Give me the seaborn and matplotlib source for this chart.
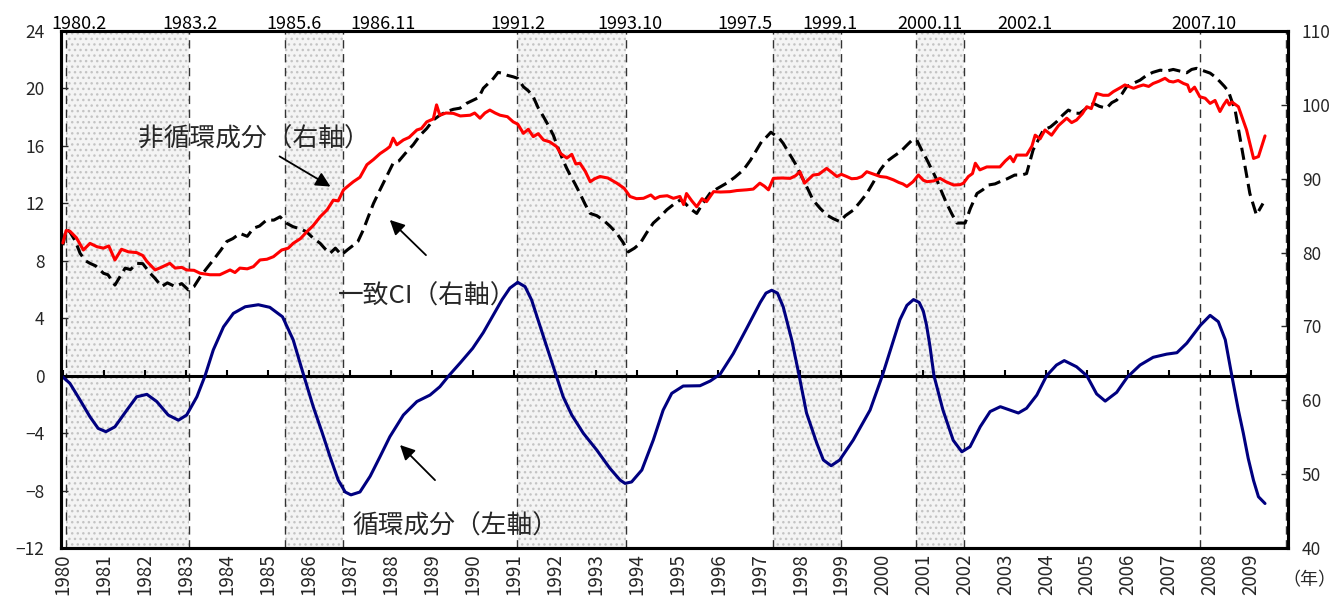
import matplotlib
matplotlib.use("Agg")
import matplotlib.pyplot as plt
import matplotlib.transforms as mtransforms
import numpy as np
import pandas as pd
import seaborn as sns

# ---------------- data ----------------
# cyclical component (left axis)
cyc_t = [1979.96, 1980.17, 1980.42, 1980.66, 1980.86, 1981.05, 1981.27, 1981.56, 1981.8, 1982.05,
         1982.29, 1982.57, 1982.82, 1983.02, 1983.27, 1983.47, 1983.67, 1983.92, 1984.16, 1984.45,
         1984.77, 1985.05, 1985.36, 1985.62, 1985.88, 1986.11, 1986.32, 1986.52, 1986.72, 1986.89,
         1987.03, 1987.25, 1987.5, 1987.74, 1987.98, 1988.31, 1988.64, 1988.96, 1989.2, 1989.42,
         1989.7, 1990.0, 1990.26, 1990.5, 1990.72, 1990.91, 1991.1, 1991.28, 1991.44, 1991.73,
         1992.04, 1992.21, 1992.42, 1992.7, 1993.03, 1993.35, 1993.6, 1993.72, 1993.88, 1994.13,
         1994.41, 1994.65, 1994.86, 1995.14, 1995.55, 1995.8, 1996.04, 1996.36, 1996.69, 1997.02,
         1997.16, 1997.3, 1997.44, 1997.58, 1997.79, 1997.97, 1998.15, 1998.4, 1998.56, 1998.75,
         1998.96, 1999.29, 1999.7, 2000.0, 2000.22, 2000.43, 2000.6, 2000.76, 2000.9, 2001.0,
         2001.08, 2001.16, 2001.26, 2001.48, 2001.73, 2001.94, 2002.14, 2002.39, 2002.63, 2002.88,
         2003.12, 2003.32, 2003.52, 2003.77, 2004.01, 2004.25, 2004.44, 2004.74, 2004.99, 2005.23,
         2005.44, 2005.72, 2005.98, 2006.29, 2006.61, 2006.94, 2007.19, 2007.43, 2007.76, 2008.0,
         2008.2, 2008.37, 2008.53, 2008.69, 2008.81, 2008.93, 2009.06, 2009.18, 2009.34]
cyc_v = [0.0, -0.53, -1.7, -2.86, -3.67, -3.9, -3.56, -2.4, -1.47, -1.3,
         -1.8, -2.74, -3.1, -2.74, -1.47, 0.0, 1.79, 3.4, 4.34, 4.8,
         4.94, 4.76, 4.1, 2.5, 0.0, -2.16, -3.9, -5.64, -7.27, -8.1,
         -8.3, -8.1, -7.0, -5.64, -4.25, -2.74, -1.8, -1.35, -0.77, 0.0,
         0.9, 1.9, 3.0, 4.2, 5.3, 6.1, 6.5, 6.2, 5.27, 2.71,
         0.0, -1.47, -2.74, -4.0, -5.18, -6.45, -7.27, -7.5, -7.4, -6.57,
         -4.48, -2.4, -1.23, -0.72, -0.7, -0.37, 0.1, 1.53, 3.3, 5.1,
         5.75, 5.95, 5.75, 4.8, 2.48, 0.0, -2.6, -4.7, -5.87, -6.27,
         -5.87, -4.48, -2.4, 0.0, 2.0, 3.9, 4.9, 5.3, 5.1, 4.5,
         3.5, 2.1, 0.0, -2.4, -4.5, -5.3, -4.95, -3.55, -2.5, -2.16,
         -2.4, -2.6, -2.27, -1.35, 0.0, 0.74, 1.05, 0.62, 0.0, -1.27,
         -1.77, -1.16, -0.1, 0.74, 1.28, 1.5, 1.6, 2.26, 3.5, 4.2,
         3.76, 2.5, 0.0, -2.4, -4.0, -5.76, -7.3, -8.43, -8.9]

# non-cyclical component (right axis)
non_t = [1980.0, 1980.08, 1980.17, 1980.33, 1980.5, 1980.66, 1980.83, 1980.99, 1981.12, 1981.27,
         1981.43, 1981.6, 1981.8, 1981.95, 1982.05, 1982.25, 1982.4, 1982.61, 1982.74, 1982.9,
         1983.02, 1983.2, 1983.35, 1983.59, 1983.83, 1984.08, 1984.2, 1984.32, 1984.5, 1984.65,
         1984.81, 1984.98, 1985.14, 1985.34, 1985.5, 1985.62, 1985.8, 1985.95, 1986.1, 1986.28,
         1986.45, 1986.6, 1986.72, 1986.85, 1987.0, 1987.09, 1987.25, 1987.42, 1987.58, 1987.74,
         1987.9, 1987.98, 1988.06, 1988.15, 1988.31, 1988.45, 1988.64, 1988.75, 1988.88, 1989.04,
         1989.12, 1989.2, 1989.35, 1989.53, 1989.7, 1989.94, 1990.05, 1990.18, 1990.3, 1990.42,
         1990.55, 1990.67, 1990.85, 1990.99, 1991.1, 1991.24, 1991.36, 1991.48, 1991.6, 1991.73,
         1991.88, 1992.05, 1992.15, 1992.3, 1992.42, 1992.52, 1992.62, 1992.75, 1992.87, 1992.98,
         1993.11, 1993.3, 1993.52, 1993.7, 1993.84, 1994.0, 1994.17, 1994.35, 1994.45, 1994.57,
         1994.75, 1994.9, 1995.06, 1995.15, 1995.22, 1995.35, 1995.47, 1995.6, 1995.71, 1995.88,
         1996.05, 1996.28, 1996.45, 1996.69, 1996.85, 1997.01, 1997.12, 1997.22, 1997.34, 1997.55,
         1997.75, 1997.88, 1997.99, 1998.1, 1998.31, 1998.45, 1998.64, 1998.78, 1998.89, 1999.0,
         1999.13, 1999.25, 1999.38, 1999.5, 1999.62, 1999.8, 1999.95, 2000.1, 2000.27, 2000.4,
         2000.5, 2000.6, 2000.75, 2000.88, 2001.0, 2001.09, 2001.25, 2001.41, 2001.55, 2001.74,
         2001.9, 2001.98, 2002.1, 2002.2, 2002.27, 2002.38, 2002.55, 2002.7, 2002.87, 2003.0,
         2003.12, 2003.2, 2003.28, 2003.52, 2003.65, 2003.73, 2003.85, 2003.97, 2004.13, 2004.3,
         2004.5, 2004.62, 2004.74, 2004.88, 2004.99, 2005.1, 2005.23, 2005.39, 2005.52, 2005.64,
         2005.8, 2005.92, 2006.13, 2006.25, 2006.37, 2006.5, 2006.61, 2006.75, 2006.9, 2007.0,
         2007.1, 2007.22, 2007.35, 2007.45, 2007.51, 2007.62, 2007.75, 2007.88, 2008.0, 2008.12,
         2008.24, 2008.33, 2008.41, 2008.47, 2008.53, 2008.69, 2008.89, 2009.06, 2009.18, 2009.34]
non_v = [81.3, 83.0, 82.9, 82.0, 80.35, 81.25, 80.8, 80.6, 80.9, 79.0,
         80.45, 80.1, 80.0, 79.6, 78.8, 77.65, 78.0, 78.55, 77.9, 78.0,
         77.65, 77.6, 77.2, 77.0, 77.0, 77.65, 77.3, 77.9, 77.8, 78.1,
         79.0, 79.1, 79.45, 80.35, 80.6, 81.25, 81.9, 82.8, 83.6, 84.85,
         85.8, 87.1, 87.0, 88.5, 89.2, 89.6, 90.2, 91.9, 92.6, 93.4,
         94.0, 94.35, 95.5, 94.6, 95.25, 95.6, 96.6, 96.8, 97.7, 98.1,
         100.0, 98.6, 98.9, 98.85, 98.5, 98.6, 98.9, 98.2, 98.9, 99.3,
         98.9, 98.6, 98.4, 97.7, 97.4, 96.15, 96.7, 95.7, 96.1, 95.25,
         95.0, 94.35, 93.4, 92.8, 93.3, 92.0, 92.1, 91.0, 89.6, 90.0,
         90.3, 90.1, 89.4, 88.7, 87.6, 87.3, 87.35, 87.8, 87.3, 87.6,
         87.7, 87.35, 87.6, 86.5, 88.0, 87.0, 86.2, 87.3, 86.9, 88.25,
         88.2, 88.25, 88.4, 88.5, 88.6, 89.4, 89.0, 88.5, 90.05, 90.1,
         90.05, 90.4, 90.95, 89.4, 90.5, 90.6, 91.4, 90.8, 90.3, 90.6,
         90.3, 90.0, 90.05, 90.3, 90.95, 90.6, 90.3, 90.2, 89.85, 89.5,
         89.3, 88.95, 89.6, 90.5, 89.8, 89.6, 89.7, 90.05, 89.6, 89.15,
         89.2, 89.4, 90.3, 90.7, 92.1, 91.2, 91.6, 91.6, 91.6, 92.4,
         93.0, 92.3, 93.2, 93.2, 94.4, 95.9, 95.4, 96.6, 95.9, 97.2,
         98.2, 97.6, 97.95, 98.8, 99.75, 99.5, 101.55, 101.3, 101.3, 101.8,
         102.3, 102.7, 102.25, 102.5, 102.7, 102.5, 102.9, 103.2, 103.6, 103.2,
         103.1, 103.3, 102.9, 102.7, 101.8, 102.4, 101.1, 100.9, 100.2, 100.6,
         99.1, 100.0, 100.65, 100.0, 100.4, 99.75, 96.6, 92.75, 93.0, 95.8]

# coincident CI (right axis)
ci_t = [1980.0, 1980.08, 1980.17, 1980.3, 1980.42, 1980.55, 1980.66, 1980.8, 1980.99, 1981.1,
        1981.27, 1981.4, 1981.52, 1981.65, 1981.8, 1981.95, 1982.13, 1982.25, 1982.41, 1982.55,
        1982.74, 1982.9, 1983.06, 1983.2, 1983.35, 1983.5, 1983.67, 1983.85, 1984.0, 1984.15,
        1984.32, 1984.5, 1984.65, 1984.8, 1984.97, 1985.15, 1985.3, 1985.45, 1985.62, 1985.8,
        1985.95, 1986.1, 1986.28, 1986.4, 1986.52, 1986.65, 1986.8, 1986.95, 1987.09, 1987.2,
        1987.33, 1987.45, 1987.58, 1987.74, 1987.9, 1988.06, 1988.2, 1988.39, 1988.55, 1988.72,
        1988.88, 1989.04, 1989.2, 1989.37, 1989.53, 1989.69, 1989.85, 1990.02, 1990.15, 1990.26,
        1990.4, 1990.51, 1990.62, 1990.71, 1990.85, 1990.99, 1991.1, 1991.24, 1991.36, 1991.48,
        1991.6, 1991.73, 1991.85, 1991.97, 1992.07, 1992.17, 1992.28, 1992.38, 1992.5, 1992.62,
        1992.75, 1992.87, 1993.03, 1993.19, 1993.35, 1993.52, 1993.67, 1993.8, 1993.95, 1994.09,
        1994.25, 1994.41, 1994.57, 1994.74, 1994.9, 1995.06, 1995.15, 1995.3, 1995.47, 1995.6,
        1995.79, 1995.95, 1996.2, 1996.4, 1996.61, 1996.78, 1996.93, 1997.05, 1997.18, 1997.28,
        1997.38, 1997.48, 1997.58, 1997.72, 1997.87, 1998.07, 1998.2, 1998.31, 1998.48, 1998.64,
        1998.8, 1998.96, 1999.1, 1999.29, 1999.45, 1999.62, 1999.8, 1999.95, 2000.1, 2000.27,
        2000.45, 2000.6, 2000.72, 2000.84, 2000.95, 2001.09, 2001.2, 2001.33, 2001.45, 2001.57,
        2001.7, 2001.82, 2002.02, 2002.15, 2002.31, 2002.45, 2002.59, 2002.75, 2002.87, 2003.05,
        2003.23, 2003.4, 2003.52, 2003.68, 2003.8, 2003.93, 2004.1, 2004.25, 2004.4, 2004.54,
        2004.68, 2004.82, 2004.99, 2005.15, 2005.3, 2005.47, 2005.6, 2005.72, 2005.85, 2005.96,
        2006.12, 2006.29, 2006.45, 2006.6, 2006.78, 2006.95, 2007.1, 2007.25, 2007.43, 2007.55,
        2007.67, 2007.85, 2008.0, 2008.12, 2008.24, 2008.35, 2008.45, 2008.53, 2008.61, 2008.7,
        2008.81, 2008.97, 2009.13, 2009.29]
ci_v = [81.0, 83.2, 82.8, 81.6, 79.9, 78.9, 78.55, 78.2, 77.2, 77.0,
        75.6, 76.8, 77.9, 77.7, 78.55, 78.5, 77.2, 76.5, 75.4, 75.9,
        75.4, 75.8, 74.95, 75.4, 76.7, 77.8, 79.0, 80.3, 81.5, 81.9,
        82.6, 82.2, 83.3, 83.6, 84.4, 84.4, 84.85, 84.0, 83.5, 83.2,
        82.8, 82.0, 81.25, 80.5, 79.9, 80.6, 79.7, 80.4, 81.0, 81.5,
        83.05, 84.8, 86.65, 88.5, 90.3, 92.1, 92.4, 93.65, 94.6, 95.9,
        96.8, 97.95, 98.6, 99.1, 99.4, 99.55, 100.2, 100.65, 101.0, 102.25,
        103.0, 103.6, 104.4, 104.3, 104.0, 103.8, 103.6, 102.45, 101.9, 101.1,
        99.6, 98.4, 97.2, 95.9, 94.4, 93.0, 91.6, 90.5, 89.3, 88.0,
        86.5, 85.3, 85.0, 84.4, 83.6, 82.6, 81.4, 80.1, 80.6, 81.25,
        82.7, 84.0, 84.8, 85.8, 86.5, 87.1, 86.9, 86.0, 85.3, 86.5,
        88.0, 88.6, 89.4, 90.2, 91.2, 92.5, 93.9, 95.0, 95.7, 96.3,
        95.9, 95.5, 94.8, 93.5, 92.1, 89.85, 88.4, 87.1, 86.0, 85.1,
        84.6, 84.2, 85.0, 85.75, 86.8, 88.0, 89.7, 91.2, 92.3, 93.0,
        93.7, 94.55, 95.2, 95.25, 94.0, 92.55, 91.3, 89.85, 88.2, 86.65,
        85.2, 84.0, 84.0, 86.0, 88.0, 88.5, 89.15, 89.3, 89.6, 90.0,
        90.5, 90.5, 90.7, 93.9, 95.2, 96.6, 97.0, 97.7, 98.6, 99.3,
        98.9, 98.85, 99.6, 100.2, 99.8, 99.55, 100.3, 100.65, 101.5, 102.45,
        102.9, 103.35, 104.0, 104.4, 104.7, 104.6, 104.8, 104.6, 104.35, 104.8,
        104.95, 104.6, 104.3, 103.8, 103.15, 102.5, 101.8, 100.5, 99.3, 96.5,
        93.0, 88.0, 85.1, 86.65]

# business-cycle reference dates (peak / trough), "year.month"
peaks = ["1980.2", "1985.6", "1991.2", "1997.5", "2000.11", "2007.10"]
troughs = ["1983.2", "1986.11", "1993.10", "1999.1", "2002.1"]
years = list(range(1980, 2010))
left_ticks = [-12, -8, -4, 0, 4, 8, 12, 16, 20, 24]
right_ticks = [40, 50, 60, 70, 80, 90, 100, 110]

# ---------------- style ----------------
sns.set_theme(style="white")
plt.rcParams["font.family"] = ["Noto Sans CJK JP", "DejaVu Sans"]
plt.rcParams["hatch.color"] = "#c4c4c4"
plt.rcParams["hatch.linewidth"] = 1.0


def ym(s):
    y, m = s.split(".")
    return int(y) + (int(m) - 1) / 12.0


fig = plt.figure(figsize=(13.38, 6.06), dpi=100)
ax = fig.add_axes([0.0456, 0.0957, 0.9170, 0.8531])
ax2 = ax.twinx()

XMIN, XMAX = 1979.954, 2009.90
ax.set_xlim(XMIN, XMAX)
ax.set_ylim(-12, 24)
ax2.set_ylim(40, 110)

# recession shading
for p, t in zip(peaks, troughs):
    ax.axvspan(ym(p), ym(t), facecolor="#f4f4f4", edgecolor="#c4c4c4",
               hatch="...", linewidth=0, zorder=0)
for d in peaks + troughs:
    ax.axvline(ym(d), color="#333333", lw=1.0, ls=(0, (6, 4)), zorder=1)
ax.axvline(2009.84, color="#333333", lw=1.0, ls=(0, (6, 4)), zorder=1)

# date labels above the frame
label_x = {"1980.2": 1980.39, "1983.2": 1983.10, "1985.6": 1985.64, "1986.11": 1987.81,
           "1991.2": 1991.11, "1993.10": 1993.84, "1997.5": 1996.65, "1999.1": 1998.72,
           "2000.11": 2001.16, "2002.1": 2003.48, "2007.10": 2007.85}
trans = mtransforms.blended_transform_factory(ax.transData, ax.transAxes)
for d in sorted(peaks + troughs, key=ym):
    ax.text(label_x[d], 1.004, d, transform=trans, ha="center", va="baseline",
            fontsize=13, color="black")

# zero line with year ticks pointing up
ax.axhline(0, color="black", lw=2.2, zorder=3)
ax.vlines(years, 0, 0.38, color="black", lw=1.5, zorder=3)

# series
df_c = pd.DataFrame({"t": cyc_t, "v": cyc_v})
df_n = pd.DataFrame({"t": non_t, "v": non_v})
df_ci = pd.DataFrame({"t": ci_t, "v": ci_v})

sns.lineplot(data=df_c, x="t", y="v", ax=ax, color="#000080", lw=2.2,
             estimator=None, zorder=4)
sns.lineplot(data=df_ci, x="t", y="v", ax=ax2, color="black", lw=2.2,
             linestyle=(0, (4.0, 2.0)), estimator=None, zorder=4)
sns.lineplot(data=df_n, x="t", y="v", ax=ax2, color="#ff0000", lw=2.2,
             estimator=None, zorder=5)

# axes cosmetics
ax.set_xlabel("")
ax.set_ylabel("")
ax2.set_ylabel("")
ax.set_xticks(years)
ax.set_xticklabels([str(y) for y in years], rotation=90, fontsize=13.5)
ax.tick_params(axis="x", length=0, pad=4)
ax.set_yticks(left_ticks)
ax.tick_params(axis="y", direction="in", length=5, width=1, labelsize=12.5, pad=12)
ax2.set_yticks(right_ticks)
ax2.tick_params(axis="y", direction="in", length=5, width=1, labelsize=12.5, pad=10)
ax2.set_xlim(XMIN, XMAX)

for a in (ax, ax2):
    for s in a.spines.values():
        s.set_visible(True)
        s.set_color("black")
        s.set_linewidth(2.2)

# annotations
ax.text(1984.65, 16.45, "非循環成分（右軸）", fontsize=18.5, ha="center", va="center")
ax.annotate("", xy=(1986.59, 13.07), xytext=(1985.23, 15.37),
            arrowprops=dict(arrowstyle="-|>", color="black", lw=1.3, mutation_scale=22))
ax.text(1988.9, 5.5, "一致CI（右軸）", fontsize=18.5, ha="center", va="center")
ax.annotate("", xy=(1987.93, 10.98), xytext=(1988.91, 8.26),
            arrowprops=dict(arrowstyle="-|>", color="black", lw=1.3, mutation_scale=22))
ax.text(1989.59, -10.5, "循環成分（左軸）", fontsize=18.5, ha="center", va="center")
ax.annotate("", xy=(1988.18, -4.69), xytext=(1989.13, -7.41),
            arrowprops=dict(arrowstyle="-|>", color="black", lw=1.3, mutation_scale=22))

fig.text(0.979, 0.043, "（年）", fontsize=13, ha="center", va="center")

fig.savefig("out.png", dpi=100)
